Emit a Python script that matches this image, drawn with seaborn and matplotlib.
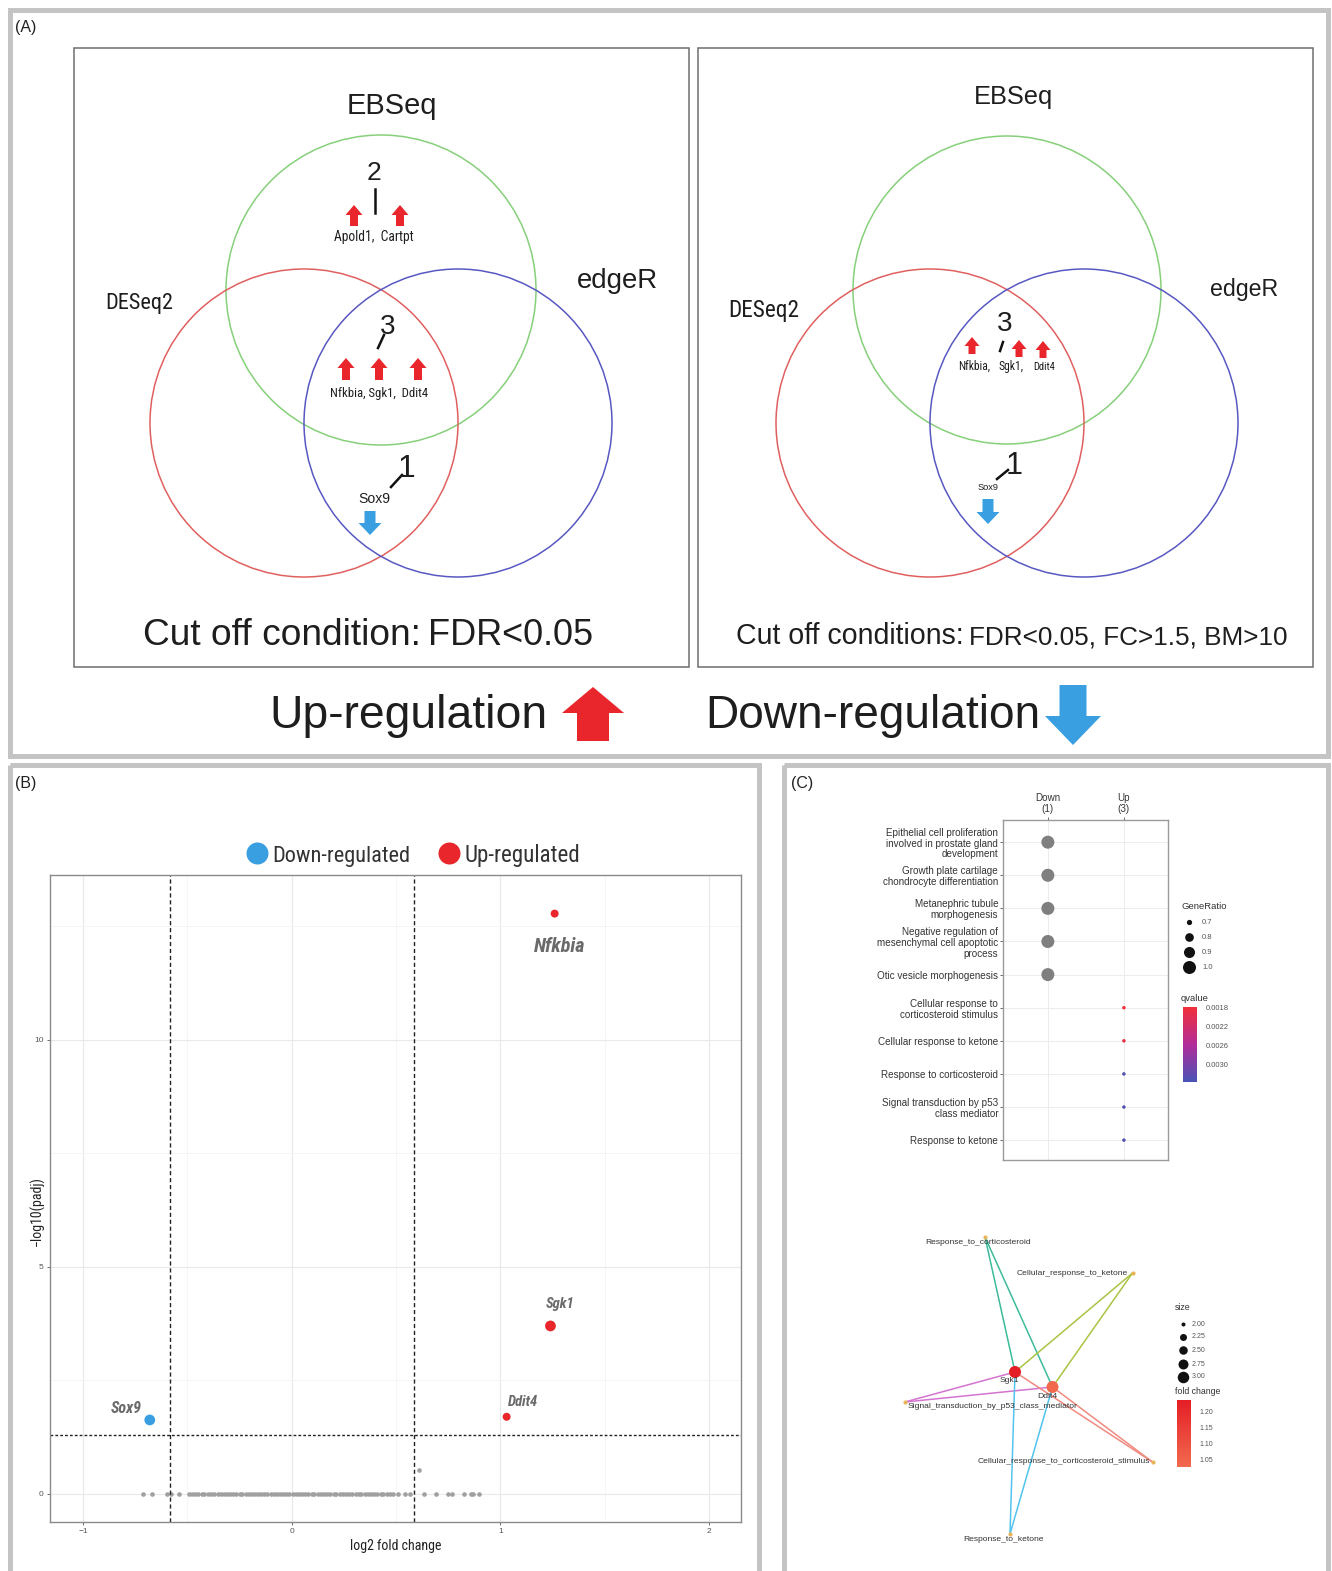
import numpy as np
import pandas as pd
import matplotlib
matplotlib.use("Agg")
import matplotlib.pyplot as plt
import seaborn as sns
from matplotlib import font_manager
from matplotlib.patches import Circle, Rectangle, FancyArrow
from matplotlib.colors import LinearSegmentedColormap, Normalize
from matplotlib.colorbar import ColorbarBase
from matplotlib.ticker import MultipleLocator

# ---------------- (A) overlap of the three DEG callers ----------------
venn_methods = ["EBSeq", "DESeq2", "edgeR"]
left_counts = [2, 3, 1]            # EBSeq only / all three / DESeq2 & edgeR
left_genes = ["Apold1,  Cartpt", "Nfkbia, Sgk1,  Ddit4", "Sox9"]
right_counts = [3, 1]              # all three / DESeq2 & edgeR
right_core_genes = ["Nfkbia,", "Sgk1,", "Ddit4"]
right_down_genes = ["Sox9"]
cutoff_left = ["Cut off condition:", "FDR<0.05"]
cutoff_right = ["Cut off conditions:", "FDR<0.05, FC>1.5, BM>10"]

# ---------------- (B) volcano ----------------
sig_genes = ["Nfkbia", "Sgk1", "Ddit4", "Sox9"]
sig_log2fc = [1.26, 1.24, 1.03, -0.68]
sig_neglog10_padj = [12.78, 3.70, 1.70, 1.63]
sig_direction = ["Up-regulated", "Up-regulated", "Up-regulated", "Down-regulated"]
# non-significant genes sitting on padj ~ 1
ns_log2fc = [-0.714, -0.669, -0.597, -0.578, -0.540,
             -0.492, -0.478, -0.461, -0.447, -0.430, -0.418, -0.401, -0.386, -0.372,
             -0.355, -0.341, -0.326, -0.312, -0.294, -0.281, -0.266, -0.249, -0.236,
             -0.221, -0.204, -0.191, -0.176, -0.160, -0.147, -0.131, -0.116, -0.099,
             -0.086, -0.071, -0.054, -0.041, -0.026, -0.011, 0.004, 0.021, 0.034,
             0.049, 0.066, 0.079, 0.096, 0.109, 0.126, 0.139, 0.156, 0.171, 0.184,
             0.201, 0.214, 0.231, 0.246, 0.259, 0.276, 0.289, 0.306, 0.321, 0.334,
             0.351, 0.364, 0.381, 0.396, 0.409, 0.426, 0.439, 0.456, 0.471, 0.487,
             0.510, 0.544, 0.566, 0.634, 0.690, 0.747, 0.769, 0.826, 0.860, 0.871, 0.898]
ns_neglog10_padj = [0.0] * len(ns_log2fc)
ns_extra_log2fc = [0.611]
ns_extra_neglog10_padj = [0.53]
fc_cut = np.log2(1.5)
padj_cut = -np.log10(0.05)

# ---------------- (C) GO enrichment ----------------
go_terms = ["Epithelial cell proliferation\ninvolved in prostate gland\ndevelopment",
            "Growth plate cartilage\nchondrocyte differentiation",
            "Metanephric tubule\nmorphogenesis",
            "Negative regulation of\nmesenchymal cell apoptotic\nprocess",
            "Otic vesicle morphogenesis",
            "Cellular response to\ncorticosteroid stimulus",
            "Cellular response to ketone",
            "Response to corticosteroid",
            "Signal transduction by p53\nclass mediator",
            "Response to ketone"]
go_cluster = ["Down", "Down", "Down", "Down", "Down", "Up", "Up", "Up", "Up", "Up"]
go_gene_ratio = [1.0, 1.0, 1.0, 1.0, 1.0, 0.667, 0.667, 0.667, 0.667, 0.667]
go_qvalue = [np.nan, np.nan, np.nan, np.nan, np.nan, 0.00180, 0.00190, 0.00330, 0.00330, 0.00330]
cluster_labels = ["Down\n(1)", "Up\n(3)"]

# gene-concept network
net_terms = ["Response_to_corticosteroid", "Cellular_response_to_ketone",
             "Signal_transduction_by_p53_class_mediator",
             "Cellular_response_to_corticosteroid_stimulus", "Response_to_ketone"]
net_term_x = [0.34, 0.93, 0.02, 1.01, 0.44]
net_term_y = [1.01, 0.89, 0.46, 0.26, 0.02]
net_genes = ["Sgk1", "Ddit4"]
net_gene_x = [0.46, 0.61]
net_gene_y = [0.56, 0.51]
net_gene_fc = [1.24, 1.03]

# ---------------- styling ----------------
W, H = 1332, 1571
names = {f.name for f in font_manager.fontManager.ttflist}
SANS = "Liberation Sans" if "Liberation Sans" in names else "DejaVu Sans"
NARROW = next((n for n in ["Liberation Sans Narrow", "Roboto Condensed", "Open Sans Condensed"]
               if n in names), SANS)
plt.rcParams["font.family"] = [SANS, "DejaVu Sans"]

RED = "#E8262B"
BLUE = "#3A9FE0"
FRAME = "#c4c4c4"

fig = plt.figure(figsize=(W / 100, H / 100), dpi=100)
renderer = fig.canvas.get_renderer()


def px_axes(x0, y0, x1, y1):
    return fig.add_axes([x0 / W, 1 - y1 / H, (x1 - x0) / W, (y1 - y0) / H])


def fit_text(ax, x, y, s, width_px, size0=20, **kw):
    t = ax.text(x, y, s, fontsize=size0, **kw)
    w = t.get_window_extent(renderer=renderer).width
    t.set_fontsize(size0 * width_px / w)
    return t


def block_arrow(ax, x, y_tail, y_head, body, head, head_len, color):
    ax.add_patch(FancyArrow(x, y_tail, 0, y_head - y_tail, width=body, head_width=head,
                            head_length=head_len, length_includes_head=True,
                            color=color, lw=0))


bg = px_axes(0, 0, W, H)
bg.set_xlim(0, W)
bg.set_ylim(H, 0)
bg.axis("off")

# panel frames
for (x, y, w, h) in [(9.5, 9.5, 1318, 746), (9.5, 765, 749, 830), (784, 765, 544, 830)]:
    bg.add_patch(Rectangle((x, y), w, h, fill=False, edgecolor=FRAME, lw=3.6))
for x0 in (73.5, 697.5):
    bg.add_patch(Rectangle((x0, 47.5), 615, 619, fill=False, edgecolor="#6e6e6e", lw=1.1))

for lab, x, y in [("(A)", 15, 27), ("(B)", 15, 783), ("(C)", 791, 783)]:
    bg.text(x, y, lab, fontsize=11.5, ha="left", va="center", color="#222")

# ---------------- (A) Venn ----------------
venn_colors = ["#86D07A", "#E0605F", "#5858C2"]
left_circles = [(381, 290, 155), (304, 423, 154), (458, 423, 154)]
right_circles = [(1007, 290, 154), (930, 423, 154), (1084, 423, 154)]
for circles in (left_circles, right_circles):
    for (cx, cy, r), col in zip(circles, venn_colors):
        bg.add_patch(Circle((cx, cy), r, fill=False, edgecolor=col, lw=1.1))

txt = dict(color="#1e1e1e", ha="center", va="baseline")
fit_text(bg, 392, 114, venn_methods[0], 90, family=SANS, **txt)
fit_text(bg, 139, 309, venn_methods[1], 68, family=NARROW, **txt)
fit_text(bg, 617, 288, venn_methods[2], 81, family=SANS, **txt)
fit_text(bg, 1013, 104, venn_methods[0], 79, family=SANS, **txt)
fit_text(bg, 764, 317, venn_methods[1], 71, family=NARROW, **txt)
fit_text(bg, 1244, 296, venn_methods[2], 68, family=SANS, **txt)

# left diagram annotations
bg.text(374, 180, str(left_counts[0]), fontsize=19, **txt)
bg.plot([374.5, 374.5], [189, 213], color="#111", lw=1.8)
block_arrow(bg, 354, 226, 205, 8, 17, 10, RED)
block_arrow(bg, 400, 226, 205, 8, 17, 10, RED)
fit_text(bg, 374, 241, left_genes[0], 80, family=NARROW, **txt)

bg.text(388, 334, str(left_counts[1]), fontsize=20, **txt)
bg.plot([384, 378], [335, 348], color="#111", lw=1.8)
for ax_ in (346, 379, 418):
    block_arrow(bg, ax_, 380, 358, 8, 17, 10, RED)
fit_text(bg, 379, 397, left_genes[1], 98, family=NARROW, **txt)

bg.text(407, 477, str(left_counts[2]), fontsize=23, **txt)
bg.plot([391, 402], [487, 475], color="#111", lw=1.8)
fit_text(bg, 374, 503, left_genes[2], 32, family=SANS, **txt)
block_arrow(bg, 370, 511, 535, 11, 23, 12, BLUE)

# right diagram annotations
bg.text(1005, 331, str(right_counts[0]), fontsize=20, **txt)
bg.plot([1003, 1000], [342, 351], color="#111", lw=1.8)
for ax_, top in ((972, 337), (1019, 340), (1043, 341)):
    block_arrow(bg, ax_, top + 17, top, 7, 15, 9, RED)
for g, x, wpx in zip(right_core_genes, (974, 1011, 1044), (32, 25, 22)):
    fit_text(bg, x, 370, g, wpx, family=NARROW, **txt)
bg.text(1014, 474, str(right_counts[1]), fontsize=22, **txt)
bg.plot([997, 1008], [479, 470], color="#111", lw=1.8)
fit_text(bg, 988, 490, right_down_genes[0], 21, family=SANS, **txt)
block_arrow(bg, 988, 499, 524, 11, 23, 12, BLUE)

# cut-off captions
fit_text(bg, 143, 645, cutoff_left[0], 277, family=SANS, color="#1e1e1e", ha="left", va="baseline")
fit_text(bg, 428, 645, cutoff_left[1], 165, family=SANS, color="#1e1e1e", ha="left", va="baseline")
fit_text(bg, 736, 644, cutoff_right[0], 227, family=SANS, color="#1e1e1e", ha="left", va="baseline")
fit_text(bg, 969, 644, cutoff_right[1], 318, family=SANS, color="#1e1e1e", ha="left", va="baseline")

# regulation key
fit_text(bg, 408, 728, "Up-regulation", 277, family=SANS, **txt)
block_arrow(bg, 593, 741, 687, 32, 62, 26, RED)
fit_text(bg, 873, 728, "Down-regulation", 334, family=SANS, **txt)
block_arrow(bg, 1073, 685, 745, 27, 56, 29, BLUE)

# ---------------- (B) volcano ----------------
sig_df = pd.DataFrame({"gene": sig_genes, "log2FoldChange": sig_log2fc,
                       "neglog10padj": sig_neglog10_padj, "group": sig_direction})
ns_df = pd.DataFrame({"log2FoldChange": ns_log2fc + ns_extra_log2fc,
                      "neglog10padj": ns_neglog10_padj + ns_extra_neglog10_padj})

axv = px_axes(50, 875, 741, 1522)
axv.set_axisbelow(True)
sns.scatterplot(data=ns_df, x="log2FoldChange", y="neglog10padj", color="#a0a0a0",
                s=11, linewidth=0, legend=False, ax=axv)
point_area = {"Nfkbia": 33, "Sgk1": 60, "Ddit4": 33, "Sox9": 60}
sns.scatterplot(data=sig_df, x="log2FoldChange", y="neglog10padj", hue="group",
                palette={"Up-regulated": RED, "Down-regulated": BLUE},
                size="gene", sizes=point_area, linewidth=0, legend=False, ax=axv, zorder=5)
axv.axvline(-fc_cut, color="#222", lw=1.0, ls=(0, (3, 2)))
axv.axvline(fc_cut, color="#222", lw=1.0, ls=(0, (3, 2)))
axv.axhline(padj_cut, color="#222", lw=1.0, ls=(0, (2, 1.5)))

label_style = {"Nfkbia": (14.5, (3.5, -24)), "Sgk1": (10.5, (7, 16)),
               "Ddit4": (10.5, (11.5, 11)), "Sox9": (11.5, (-17, 8))}
for _, r in sig_df.iterrows():
    fs, off = label_style[r["gene"]]
    axv.annotate(r["gene"], (r["log2FoldChange"], r["neglog10padj"]), xytext=off,
                 textcoords="offset points", ha="center", va="center", fontsize=fs,
                 fontweight="bold", fontstyle="italic", color="#6a6a6a", family=NARROW)

axv.set_xlim(-1.158, 2.153)
axv.set_ylim(-0.617, 13.63)
axv.set_xticks([-1, 0, 1, 2])
axv.set_yticks([0, 5, 10])
axv.xaxis.set_minor_locator(MultipleLocator(0.5))
axv.yaxis.set_minor_locator(MultipleLocator(2.5))
axv.grid(True, which="major", color="#e9e9e9", lw=0.8)
axv.grid(True, which="minor", color="#f4f4f4", lw=0.6)
axv.tick_params(which="major", length=2.5, width=0.6, color="#555", labelsize=6,
                labelcolor="#555", pad=2)
axv.tick_params(which="minor", length=0)
for sp in axv.spines.values():
    sp.set_color("#8a8a8a")
    sp.set_linewidth(1.0)
axv.set_xlabel("log2 fold change", fontsize=10, family=NARROW, color="#222", labelpad=3)
axv.set_ylabel("\u2212log10(padj)", fontsize=10, family=NARROW, color="#222")
axv.yaxis.set_label_coords((45 - 50) / 691, 0.48)

# volcano key
bg.scatter([257], [853], s=(22 * 0.72) ** 2, color=BLUE, lw=0)
bg.scatter([449], [853], s=(22 * 0.72) ** 2, color=RED, lw=0)
fit_text(bg, 272, 862, "Down-regulated", 138, family=NARROW, color="#333", ha="left", va="baseline")
fit_text(bg, 465, 862, "Up-regulated", 115, family=NARROW, color="#333", ha="left", va="baseline")

# ---------------- (C) GO dot plot ----------------
go_df = pd.DataFrame({"term": go_terms, "cluster": go_cluster,
                      "GeneRatio": go_gene_ratio, "qvalue": go_qvalue})
go_df["row"] = np.arange(1, len(go_df) + 1)
go_df["col"] = go_df["cluster"].map({"Down": 1, "Up": 2})

r_lo, r_hi = 0.667, 1.0
a_lo, a_hi = (3.5 * 0.72) ** 2, (13 * 0.72) ** 2


def ratio_area(gr):
    return a_lo + (gr - r_lo) / (r_hi - r_lo) * (a_hi - a_lo)


q_cmap = LinearSegmentedColormap.from_list("q", ["#F2303A", "#B12C98", "#4953B6"])
q_norm = (0.00178, 0.00336)

axd = px_axes(1003, 820, 1168, 1160)
axd.set_axisbelow(True)
sns.scatterplot(data=go_df[go_df["qvalue"].isna()], x="col", y="row", size="GeneRatio",
                sizes=(a_lo, a_hi), size_norm=(r_lo, r_hi), color="#7f7f7f",
                linewidth=0, legend=False, ax=axd)
sns.scatterplot(data=go_df[go_df["qvalue"].notna()], x="col", y="row", size="GeneRatio",
                sizes=(a_lo, a_hi), size_norm=(r_lo, r_hi), hue="qvalue", palette=q_cmap,
                hue_norm=q_norm, linewidth=0, legend=False, ax=axd)
axd.set_xlim(0.41, 2.58)
axd.set_ylim(10.6, 0.33)
axd.set_xticks([1, 2])
axd.set_xticklabels(cluster_labels, linespacing=1.05)
axd.xaxis.tick_top()
axd.set_yticks(go_df["row"])
axd.set_yticklabels(go_df["term"], linespacing=1.1)
axd.tick_params(length=2, width=0.6, color="#555", labelsize=7.1, labelcolor="#333", pad=1.5)
axd.tick_params(axis="x", pad=2.5)
axd.grid(True, color="#ececec", lw=0.7)
axd.set_xlabel("")
axd.set_ylabel("")
for sp in axd.spines.values():
    sp.set_color("#9a9a9a")
    sp.set_linewidth(1.0)

# GeneRatio key
bg.text(1181, 906, "GeneRatio", fontsize=6.8, color="#333", ha="left", va="center")
for gr, y in zip([0.7, 0.8, 0.9, 1.0], [922, 937, 952, 967]):
    bg.scatter([1189], [y], s=ratio_area(gr), color="#111", lw=0)
    bg.text(1202, y, f"{gr:.1f}", fontsize=5.5, color="#555", ha="left", va="center")
bg.text(1181, 998, "qvalue", fontsize=6.8, color="#333", ha="left", va="center")
cax_q = px_axes(1183, 1007, 1197, 1082)
cb_q = ColorbarBase(cax_q, cmap=q_cmap, norm=Normalize(*q_norm),
                    ticks=[0.0018, 0.0022, 0.0026, 0.0030])
cb_q.set_ticklabels(["0.0018", "0.0022", "0.0026", "0.0030"])
cax_q.invert_yaxis()
cax_q.tick_params(labelsize=5.5, length=2, color="white", labelcolor="#555", pad=4)
cb_q.outline.set_visible(False)

# ---------------- (C) gene-concept network ----------------
edge_colors = ["#3DBB9B", "#A9C443", "#D474D0", "#F08A80", "#52C3EE"]
fc_cmap = LinearSegmentedColormap.from_list("fc", ["#F26A4E", "#E41E26"])
fc_norm = (1.025, 1.238)

axn = px_axes(880, 1220, 1170, 1560)
axn.set_xlim(-0.08, 1.08)
axn.set_ylim(-0.0667, 1.0667)
axn.axis("off")
for tx, ty, ec in zip(net_term_x, net_term_y, edge_colors):
    for gx, gy in zip(net_gene_x, net_gene_y):
        axn.plot([tx, gx], [ty, gy], color=ec, lw=1.1, zorder=1)
term_df = pd.DataFrame({"term": net_terms, "x": net_term_x, "y": net_term_y})
gene_df = pd.DataFrame({"gene": net_genes, "x": net_gene_x, "y": net_gene_y, "fc": net_gene_fc})
sns.scatterplot(data=term_df, x="x", y="y", color="#E8B458", s=9, linewidth=0,
                legend=False, ax=axn, zorder=3)
sns.scatterplot(data=gene_df, x="x", y="y", hue="fc", palette=fc_cmap, hue_norm=fc_norm,
                s=(12 * 0.72) ** 2, linewidth=0, legend=False, ax=axn, zorder=3)
axn.set_xlabel("")
axn.set_ylabel("")

term_label_pos = [((-5, -3.6), "center"), ((-3, 0), "right"), ((1.5, -3.6), "left"),
                  ((-1.5, 0), "right"), ((-5, -4.3), "center")]
for (name, x, y), (off, ha) in zip(term_df[["term", "x", "y"]].values, term_label_pos):
    axn.annotate(name, (x, y), xytext=off, textcoords="offset points", ha=ha, va="center",
                 fontsize=6.1, color="#333", zorder=4)
for (name, x, y), off in zip(gene_df[["gene", "x", "y"]].values, [(-4.3, -5.8), (-3.6, -6.5)]):
    axn.annotate(name, (x, y), xytext=off, textcoords="offset points", ha="center",
                 va="center", fontsize=6.1, color="#333", zorder=4)

# network keys
bg.text(1175, 1308, "size", fontsize=6.3, color="#333", ha="left", va="center")
for v, y, d in zip(["2.00", "2.25", "2.50", "2.75", "3.00"],
                   [1324, 1337, 1350, 1364, 1377], [4, 7, 8.5, 10, 11.5]):
    bg.scatter([1183], [y], s=(d * 0.72) ** 2, color="#111", lw=0)
    bg.text(1192, y, v, fontsize=5.0, color="#555", ha="left", va="center")
bg.text(1175, 1392, "fold change", fontsize=6.3, color="#333", ha="left", va="center")
cax_fc = px_axes(1177, 1400, 1191, 1467)
cb_fc = ColorbarBase(cax_fc, cmap=fc_cmap, norm=Normalize(*fc_norm),
                     ticks=[1.05, 1.10, 1.15, 1.20])
cb_fc.set_ticklabels(["1.05", "1.10", "1.15", "1.20"])
cax_fc.tick_params(labelsize=5.0, length=2, color="white", labelcolor="#555", pad=4)
cb_fc.outline.set_visible(False)

fig.savefig("out.png", dpi=100)
